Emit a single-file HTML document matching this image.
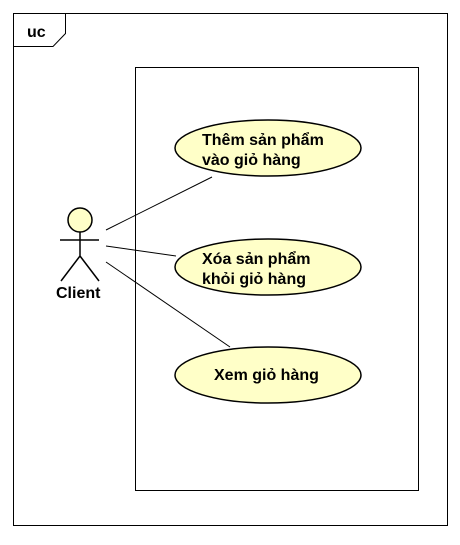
<!DOCTYPE html>
<html><head><style>body{margin:0;background:#fff}</style></head><body>
<svg width="460" height="540" xmlns="http://www.w3.org/2000/svg" font-family="Liberation Sans, sans-serif" font-weight="bold" font-size="16">
<rect x="13.5" y="13.5" width="434" height="512" fill="#fff" stroke="#000"/>
<path d="M13.5 46.5H53L65.5 33.5V13.5" fill="none" stroke="#000"/>
<text x="27" y="37" font-size="16">uc</text>
<rect x="135.5" y="67.5" width="283" height="423" fill="#fff" stroke="#000"/>
<g fill="#ffffc8" stroke="#000" stroke-width="1.5">
<ellipse cx="268" cy="148" rx="93" ry="28"/>
<ellipse cx="268" cy="267" rx="93" ry="28"/>
<ellipse cx="268" cy="375" rx="93" ry="28"/>
<circle cx="80" cy="220" r="12"/>
</g>
<g stroke="#000" stroke-width="1.5" fill="none">
<path d="M60 240H99M80 232V256L61 281M80 256L99 281"/>
</g>
<g stroke="#000" stroke-width="1">
<line x1="106" y1="230" x2="212" y2="177"/>
<line x1="106" y1="246" x2="176" y2="256"/>
<line x1="106" y1="262" x2="230" y2="347"/>
</g>
<text x="56" y="298">Client</text>
<text x="202" y="145">Thêm sản phẩm</text>
<text x="202" y="165">vào giỏ hàng</text>
<text x="202" y="264">Xóa sản phẩm</text>
<text x="202" y="284">khỏi giỏ hàng</text>
<text x="214" y="380">Xem giỏ hàng</text>
</svg>
</body></html>
